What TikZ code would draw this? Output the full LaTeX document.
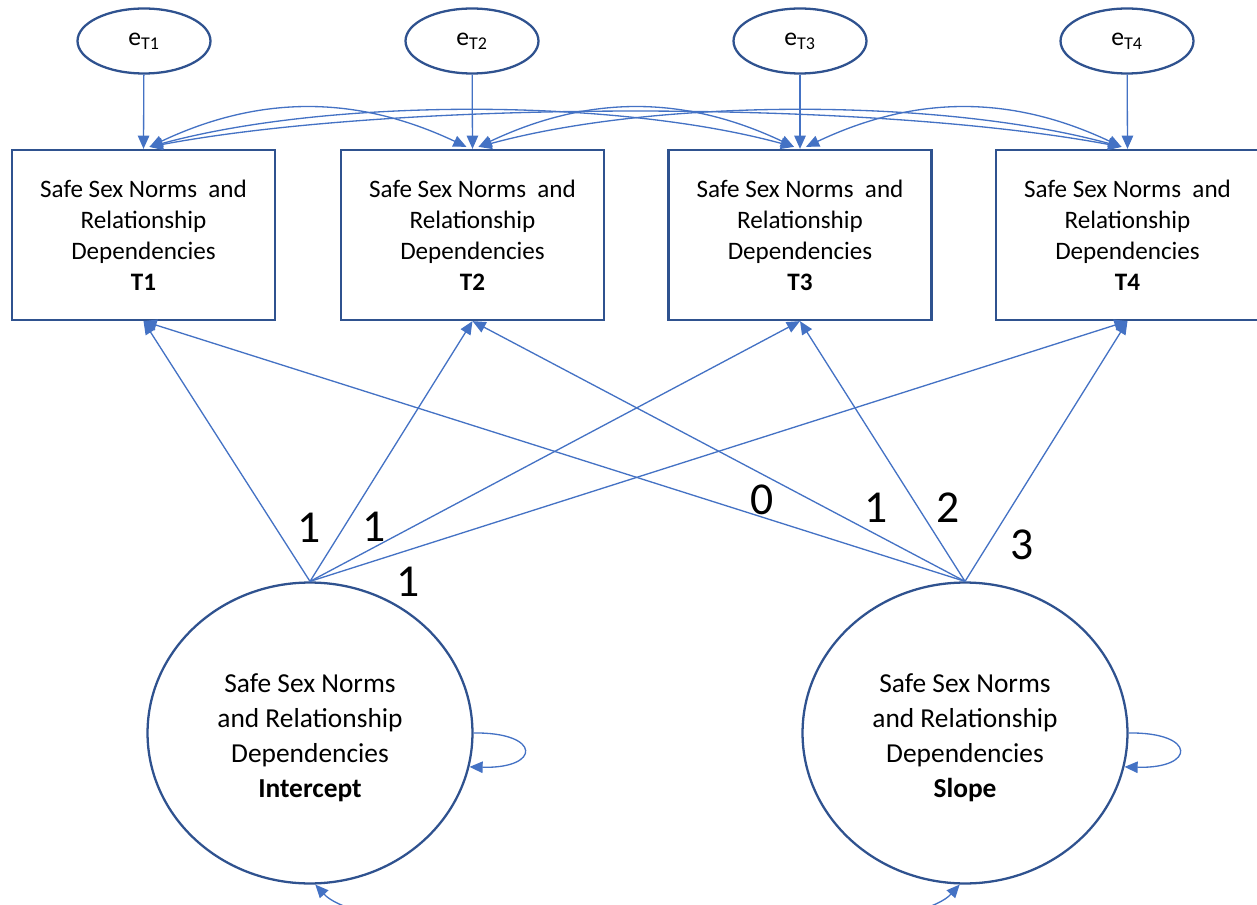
\documentclass[tikz,border=0pt]{standalone}
\usepackage{fontspec}
\setmainfont{Carlito}
\usetikzlibrary{shapes.geometric,arrows.meta,calc}
\definecolor{linkblue}{HTML}{4472C4}
\definecolor{edgeblue}{HTML}{2F528F}
\begin{document}
\begin{tikzpicture}[x=0.02cm,y=0.02cm,
  box/.style={draw=edgeblue,line width=1.3pt,minimum width=5.26cm,minimum height=3.4cm,
    inner sep=0pt,align=center,font=\fontsize{14.3}{17.6}\selectfont},
  err/.style={ellipse,draw=edgeblue,line width=1.3pt,minimum width=2.66cm,minimum height=1.3cm,
    inner sep=0pt,font=\fontsize{14.6}{17}\selectfont},
  latent/.style={ellipse,draw=edgeblue,line width=1.3pt,minimum width=6.5cm,minimum height=6.02cm,
    inner sep=0pt,align=center,font=\fontsize{15.6}{20}\selectfont},
  tip/.tip={Triangle[length=7.5pt,width=6.5pt]},
  link/.style={draw=linkblue,line width=0.75pt,-tip},
  cov/.style={draw=linkblue,line width=0.75pt,tip-tip},
  load/.style={font=\fontsize{26}{30}\selectfont,inner sep=0pt}
]
\useasboundingbox (0,0) rectangle (1257,-905);
\clip (0,0) rectangle (1257,-905);

% observed measures
\foreach \k/\x in {1/143.5,2/472.5,3/800,4/1127.5}{
  \node[box] (T\k) at (\x,-235) {Safe Sex Norms\ \ and\\Relationship\\Dependencies\\\textbf{T\k}};
}
% residuals
\foreach \k/\x in {1/144,2/472,3/800,4/1127}{
  \node[err] (e\k) at (\x,-41) {e\textsubscript{T\k}};
  \draw[link] (e\k) -- (T\k.north);
}

% growth factors
\node[latent] (I) at (310,-733) {};
\node[latent] (S) at (965,-733) {};
\node[align=center,font=\fontsize{15.6}{20}\selectfont] (Itext) at (310,-738)
  {Safe Sex Norms\\and Relationship\\Dependencies\\\textbf{Intercept}};
\node[align=center,font=\fontsize{15.6}{20}\selectfont] (Stext) at (965,-738)
  {Safe Sex Norms\\and Relationship\\Dependencies\\\textbf{Slope}};

% factor loadings
\foreach \k in {1,2,3,4}{
  \draw[link] (I.north) -- (T\k.south);
  \draw[link] (S.north) -- (T\k.south);
}
\node[load] (l1) at (309,-528) {1};
\node[load] (l2) at (374,-527) {1};
\node[load] (l3) at (408,-582) {1};
\node[load] (l4) at (762,-500) {0};
\node[load] (l5) at (876,-508) {1};
\node[load] (l6) at (948,-508) {2};
\node[load] (l7) at (1022,-545) {3};

% residual covariances between occasions
\foreach \a/\b/\dx/\dy in {1/2/110/52,1/3/180/49,1/4/250/47,2/3/110/52,2/4/180/49,3/4/110/52}{
  \draw[cov] ($(T\a.north)+(6,2)$) .. controls +(\dx,\dy) and +(-\dx,\dy) .. ($(T\b.north)+(-6,2)$);
}

% factor variances
\draw[link] (I.0) .. controls +(68,1) and +(72,-2) .. (I.-12);
\draw[link] (S.0) .. controls +(68,1) and +(72,-2) .. (S.-12);

% factor covariance
\draw[cov] (I.-88) .. controls (375,-950) and (900,-950) .. (S.-92);
\end{tikzpicture}
\end{document}
